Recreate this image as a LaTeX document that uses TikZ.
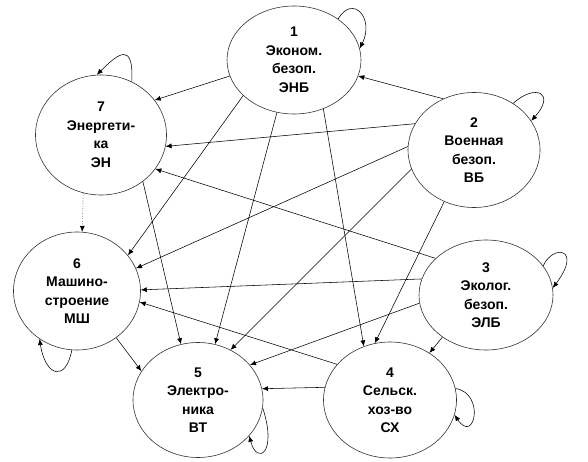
\documentclass[tikz,border=0pt]{standalone}
\usepackage{fontspec}
\setmainfont{Liberation Sans}
\usetikzlibrary{shapes.geometric,arrows.meta}
\begin{document}
\begin{tikzpicture}[x=1pt,y=-1pt,
  sector/.style={ellipse,draw=black!80,line width=0.6pt,inner sep=0pt,align=center,
    font=\fontsize{14}{18.5}\selectfont\bfseries},
  link/.style={line width=0.55pt,-{Latex[length=6pt,width=5pt]}},
  loopedge/.style={line width=0.55pt,-{Latex[length=6pt,width=5pt]}}]
\useasboundingbox (0,0) rectangle (588,462);
\fill[white] (0,0) rectangle (588,462);
\node[sector,minimum width=134pt,minimum height=108pt] (n1) at (294,60) {1\\Эконом.\\безоп.\\ЭНБ};
\node[sector,minimum width=132pt,minimum height=115pt] (n2) at (474,150) {2\\Военная\\безоп.\\ВБ};
\node[sector,minimum width=134pt,minimum height=110pt] (n3) at (486,295) {3\\Эколог.\\безоп.\\ЭЛБ};
\node[sector,minimum width=133pt,minimum height=116pt] (n4) at (390,400) {4\\Сельск.\\хоз-во\\СХ};
\node[sector,minimum width=130pt,minimum height=115pt] (n5) at (198,400) {5\\Электро-\\ника\\ВТ};
\node[sector,minimum width=127pt,minimum height=118pt] (n6) at (77,291) {6\\Машино-\\строение\\МШ};
\node[sector,minimum width=131pt,minimum height=120pt] (n7) at (101,135) {7\\Энергети-\\ка\\ЭН};
% edges from 1
\draw[link] (n1.194) -- (n7.33);
\draw[link] (n1.215) -- (n6.35);
\draw[link] (n1.252) -- (n5.73);
\draw[link] (n1.301) -- (n4.116);
% edges from 2
\draw[link] (n2.121) -- (n1.346);
\draw[link] (n2.156) -- (n7.350);
\draw[link] (n2.177) -- (n6.21);
\draw[link] (n2.197) -- (n5.57);
\draw[link] (n2.240) -- (n4.105);
% edges from 3
\draw[link] (n3.144) -- (n7.328);
\draw[link] (n3.166) -- (n6.1);
\draw[link] (n3.187) -- (n5.34);
\draw[link] (n3.224) -- (n4.50);
% edges from 4
\draw[link] (n4.146) -- (n6.350);
\draw[link] (n4.169) -- (n5.10);
% edges from 6 and 7
\draw[link] (n6.310) -- (n5.153);
\draw[link,dotted] (n7.253) -- (n6.85);
\draw[link] (n7.312) -- (n5.107);
% self loops
\draw[loopedge] (n1.43) .. controls +(15,-25) and +(15,-30) .. (n1.10);
\draw[loopedge] (n2.50) .. controls +(22,-20) and +(25,-28) .. (n2.27);
\draw[loopedge] (n3.27) .. controls +(10,-22) and +(30,-40) .. (n3.6);
\draw[loopedge] (n4.10) .. controls +(30,5) and +(20,30) .. (n4.347);
\draw[loopedge] (n5.353) .. controls +(15,45) and +(8,30) .. (n5.325);
\draw[loopedge] (n6.265) .. controls +(-6,32) and +(6,38) .. (n6.232);
\draw[loopedge] (n7.60) .. controls +(2,-40) and +(22,-22) .. (n7.94);
\end{tikzpicture}
\end{document}
